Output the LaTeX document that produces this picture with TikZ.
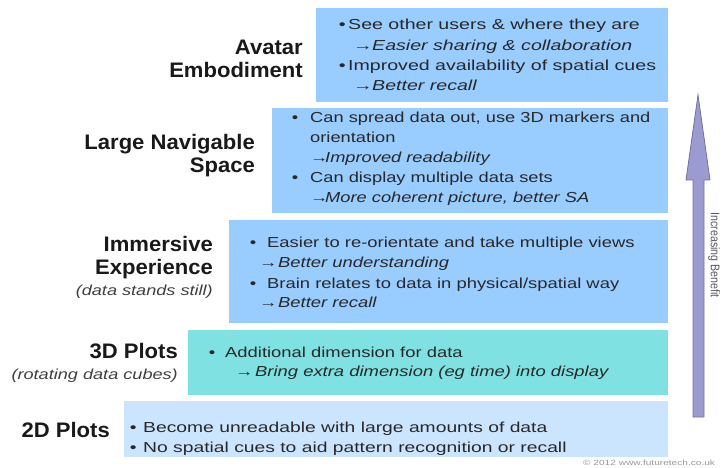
\documentclass[tikz,border=0pt]{standalone}
\usepackage{fontspec}
\usepackage{graphicx}
\setmainfont{Liberation Sans}
\newfontfamily\bodyA{Liberation Sans}[FakeStretch=1.35]
\newfontfamily\bodyB{Liberation Sans}[FakeStretch=1.26]
\newfontfamily\bodyC{Liberation Sans}[FakeStretch=1.27]
\newfontfamily\bodyD{Liberation Sans}[FakeStretch=1.33]
\newfontfamily\lblfont{Liberation Sans}[FakeStretch=1.05]
\newfontfamily\subfont{Liberation Sans}[FakeStretch=1.25]
\newfontfamily\rotfont{Liberation Sans}[FakeStretch=0.85]
\definecolor{boxblue}{RGB}{153,204,255}
\definecolor{boxteal}{RGB}{127,225,225}
\definecolor{boxpale}{RGB}{204,229,255}
\definecolor{arrfill}{RGB}{155,155,210}
\definecolor{arredge}{RGB}{112,112,160}
\definecolor{bodytext}{RGB}{40,40,40}
\newcommand\bul[1]{\makebox[#1][l]{•}}
\newcommand\rarr[1]{\makebox[#1][l]{→}}
\newcommand\tabt[1]{\begin{tabular}[t]{@{}l@{}}#1\end{tabular}}
\newcommand\tabr[1]{\begin{tabular}[t]{@{}r@{}}#1\end{tabular}}
\begin{document}
\begin{tikzpicture}[x=1pt,y=-1pt,
  stepbox/.style={anchor=north west, inner sep=0pt, draw=none},
  bodytxt/.style={anchor=base west, inner sep=0pt, text=bodytext},
  lbl/.style={anchor=base east, inner sep=0pt, text=black!90, font=\lblfont\bfseries\fontsize{21}{23}\selectfont},
  sublbl/.style={anchor=base east, inner sep=0pt, text=black!75, font=\subfont\itshape\fontsize{14.5}{20}\selectfont}]
\useasboundingbox (0,0) rectangle (724,468);
% boxes
\node[stepbox, fill=boxblue, minimum width=352pt, minimum height=94pt] (bav) at (316,8) {};
\node[stepbox, fill=boxblue, minimum width=396pt, minimum height=105pt] (bln) at (272,108) {};
\node[stepbox, fill=boxblue, minimum width=439pt, minimum height=103pt] (bim) at (229,220) {};
\node[stepbox, fill=boxteal, minimum width=480pt, minimum height=65pt] (bth) at (188,330) {};
\node[stepbox, fill=boxpale, minimum width=544pt, minimum height=56pt] (btw) at (124,401) {};
% box texts
\node[bodytxt, font=\bodyA\fontsize{14.5}{20.3}\selectfont] (tav) at (338.6,30) {\tabt{%
  \bul{9.4pt}See other users \& where they are\\
  \hspace{14.4pt}\rarr{19pt}\textit{Easier sharing \& collaboration}\\
  \bul{9.4pt}Improved availability of spatial cues\\
  \hspace{14.4pt}\rarr{19pt}\textit{Better recall}}};
\node[bodytxt, font=\bodyB\fontsize{14.5}{20}\selectfont] (tln) at (291.6,123) {\tabt{%
  \bul{18.4pt}Can spread data out, use 3D markers and\\
  \hspace{18.4pt}orientation\\
  \hspace{18.4pt}\rarr{15pt}\textit{Improved readability}\\
  \bul{18.4pt}Can display multiple data sets\\
  \hspace{18.4pt}\rarr{15pt}\textit{More coherent picture, better SA}}};
\node[bodytxt, font=\bodyC\fontsize{14.5}{20}\selectfont] (tim) at (249.6,248) {\tabt{%
  \bul{17.4pt}Easier to re-orientate and take multiple views\\
  \hspace{9.4pt}\rarr{19pt}\textit{Better understanding}\\
  \bul{17.4pt}Brain relates to data in physical/spatial way\\
  \hspace{9.4pt}\rarr{19pt}\textit{Better recall}}};
\node[bodytxt, font=\bodyC\fontsize{14.5}{20}\selectfont] (tth) at (208.6,357) {\tabt{%
  \bul{16.4pt}Additional dimension for data\\
  \hspace{26.4pt}\rarr{20pt}\textit{Bring extra dimension (eg time) into display}}};
\node[bodytxt, font=\bodyD\fontsize{14.5}{20}\selectfont] (ttw) at (129.6,432) {\tabt{%
  \bul{13.4pt}Become unreadable with large amounts of data\\
  \bul{13.4pt}No spatial cues to aid pattern recognition or recall}};
% labels
\node[lbl] (lav) at (303,55) {\tabr{Avatar\\Embodiment}};
\node[lbl] (lln) at (255,150) {\tabr{Large Navigable\\Space}};
\node[lbl] (lim) at (213,252) {\tabr{Immersive\\Experience}};
\node[sublbl] (sim) at (213,296) {(data stands still)};
\node[lbl] (lth) at (178,358) {3D Plots};
\node[sublbl] (sth) at (178,379) {(rotating data cubes)};
\node[lbl] (ltw) at (110,437) {2D Plots};
% benefit arrow
\coordinate (atip) at (698,95);
\filldraw[fill=arrfill, draw=arredge, line width=0.8pt, line join=miter]
  (693,417) -- (693,180) -- (686,180) -- (atip) -- (710,180) -- (704,180) -- (704,417) -- cycle;
\node[rotate=-90, inner sep=0pt, text=black!65, font=\rotfont\fontsize{12.5}{14}\selectfont] (ben) at (714,255) {Increasing Benefit};
\node[anchor=base west, inner sep=0pt, text=black!40, font=\bodyA\fontsize{7.5}{9}\selectfont] (copy) at (583,465) {© 2012 www.futuretech.co.uk};
\end{tikzpicture}
\end{document}
